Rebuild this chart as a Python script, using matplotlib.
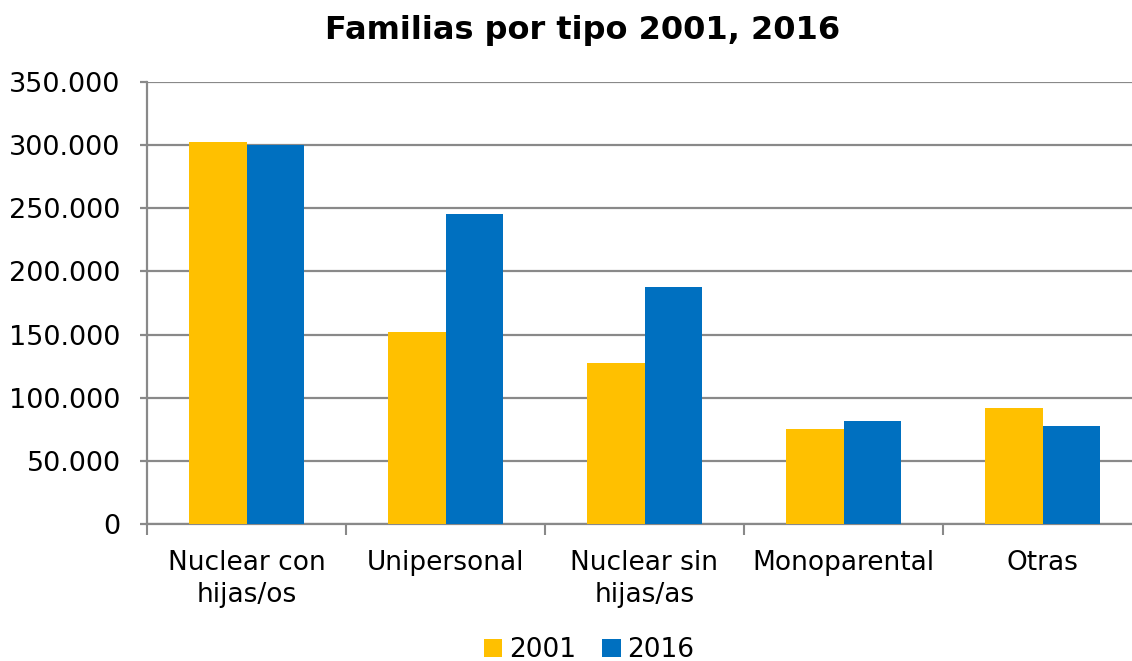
import numpy as np
import matplotlib
matplotlib.use('Agg')
import matplotlib.pyplot as plt
from matplotlib.ticker import FuncFormatter, FixedLocator

# Data
categorias = ['Nuclear con\nhijas/os', 'Unipersonal', 'Nuclear sin\nhijas/as', 'Monoparental', 'Otras']
valores_2001 = [302500, 152000, 127800, 75500, 92000]
valores_2016 = [300300, 245500, 187700, 81800, 77800]

color_2001 = '#FFC000'
color_2016 = '#0070C0'
gris = '#898989'

plt.rcParams['font.family'] = ['DejaVu Sans']

fig = plt.figure(figsize=(11.32, 6.61), dpi=100)
ax = fig.add_axes([147 / 1132, 1 - 524 / 661, 995 / 1132, 442 / 661])

x = np.arange(len(categorias))
w = 0.289
ax.bar(x - w / 2, valores_2001, width=w, color=color_2001, label='2001', zorder=3)
ax.bar(x + w / 2, valores_2016, width=w, color=color_2016, label='2016', zorder=3)

ax.set_xlim(-0.5, len(categorias) - 0.5)
ax.set_ylim(0, 350000)
ax.set_yticks(np.arange(0, 350001, 50000))
ax.yaxis.set_major_formatter(FuncFormatter(lambda v, p: f'{int(v):,}'.replace(',', '.')))
ax.grid(axis='y', color=gris, linewidth=1.6, zorder=0)

ax.set_xticks(x)
ax.set_xticklabels(categorias, fontsize=19, linespacing=1.3)
ax.xaxis.set_minor_locator(FixedLocator(np.arange(-0.5, len(categorias), 1.0)))
ax.tick_params(axis='x', which='major', length=0, pad=18.5)
ax.tick_params(axis='x', which='minor', length=8, width=1.5, color=gris)
ax.tick_params(axis='y', length=5, width=1.6, color=gris, labelsize=19.5, pad=14)

for s in ['top', 'right']:
    ax.spines[s].set_visible(False)
for s in ['left', 'bottom']:
    ax.spines[s].set_color(gris)
    ax.spines[s].set_linewidth(1.6)

fig.text(583 / 1132, 1 - 31 / 661, 'Familias por tipo 2001, 2016', ha='center', va='center',
         fontsize=23, fontweight='bold')

fig.legend(loc='center', bbox_to_anchor=(589 / 1132, 1 - 650 / 661), ncol=2, frameon=False,
           fontsize=19, handlelength=0.7, handleheight=0.7, handletextpad=0.25,
           columnspacing=1.0, borderpad=0)

fig.savefig('out.png', dpi=100)
